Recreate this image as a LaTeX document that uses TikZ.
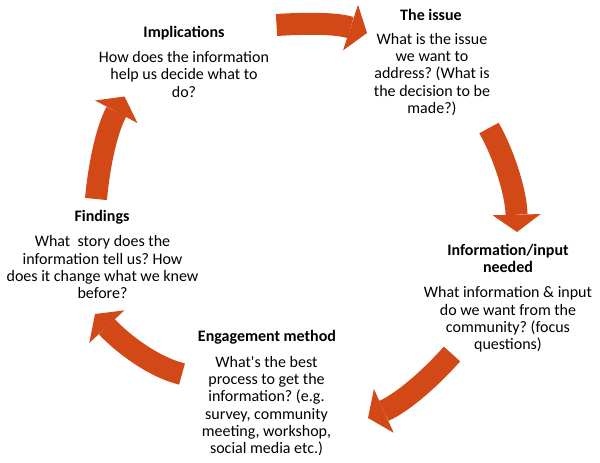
\documentclass[tikz,border=0pt]{standalone}
\usepackage{fontspec}
\setmainfont{Carlito}
\usetikzlibrary{arrows.meta}
\definecolor{accent}{RGB}{210,72,22}
\frenchspacing
\tikzset{
  txt/.style={font=\fontsize{12}{13}\selectfont, align=center, inner sep=0pt, text=black},
  ttl/.style={txt, font=\fontsize{12}{13}\selectfont\bfseries},
  arr/.style={draw=accent, line width=16.5pt,
    -{Triangle[width=36pt,length=13pt,line width=0pt]}}
}
\begin{document}
\begin{tikzpicture}[x=0.75pt,y=-0.75pt]
\useasboundingbox (0,0) rectangle (600,463);
% text blocks
\node[ttl] (impT) at (184,33) {Implications};
\node[txt] (impB) at (184,74.5) {How does the information\\help us decide what to\\do?};
\node[ttl] (issT) at (431,15) {The issue};
\node[txt] (issB) at (432,74.4) {What is the issue\\we want to\\address? (What is\\the decision to be\\made?)};
\node[ttl] (infT) at (508,258.5) {Information/input\\needed};
\node[txt] (infB) at (508,319.5) {What information \& input\\do we want from the\\community? (focus\\questions)};
\node[ttl] (engT) at (267,337) {Engagement method};
\node[txt] (engB) at (266.5,406) {What\textquotesingle s the best\\process to get the\\information? (e.g.\\survey, community\\meeting, workshop,\\social media etc.)};
\node[ttl] (finT) at (102,217) {Findings};
\node[txt] (finB) at (102.5,267.5) {What~ story does the\\information tell us? How\\does it change what we knew\\before?};
% arrow end points
\coordinate (a1s) at (276.5,25);  \coordinate (a1e) at (367,33);
\coordinate (a2s) at (489,128);   \coordinate (a2e) at (517,232);
\coordinate (a3s) at (452,354);   \coordinate (a3e) at (368,418);
\coordinate (a4s) at (182,374);   \coordinate (a4e) at (95,314);
\coordinate (a5s) at (96,199);    \coordinate (a5e) at (124.5,96.5);
% cycle arrows
\draw[arr] (a1s) .. controls (300,23.5) and (335,22.5) .. (a1e);
\draw[arr] (a2s) .. controls (503.7,154) and (516,192) .. (a2e);
\draw[arr] (a3s) .. controls (432,376.5) and (404.4,401.6) .. (a3e);
\draw[arr] (a4s) .. controls (153,367) and (122,343) .. (a4e);
\draw[arr] (a5s) .. controls (98.7,169) and (105.7,131.7) .. (a5e);
\end{tikzpicture}
\end{document}
